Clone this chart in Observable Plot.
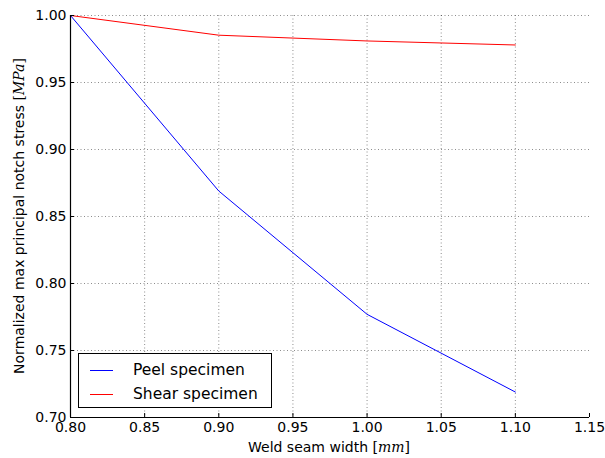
<!DOCTYPE html>
<html><head><meta charset="utf-8">
<script src="https://cdn.jsdelivr.net/npm/d3@7"></script>
<script src="https://cdn.jsdelivr.net/npm/@observablehq/plot@0.6"></script>
<style>
body{margin:0;background:#fff}
#wrap{position:relative;width:605px;height:458px;font-family:"DejaVu Sans",sans-serif}
#legend{position:absolute;left:78px;top:353px;width:192px;height:53px;border:1px solid #000;background:#fff;font-size:15.5px;color:#000}
#legend .row{position:absolute;left:0;height:20px;display:flex;align-items:center}
#legend .sw{display:inline-block;width:23px;height:0;border-top:1px solid;margin-left:11px;margin-right:20px}
</style>
</head><body><div id="wrap"></div>
<script>
const widths = [0.80, 0.90, 1.00, 1.10];
const peel = [1.000, 0.869, 0.777, 0.719];
const shear = [1.000, 0.9853, 0.981, 0.978];
const seriesNames = ["Peel specimen", "Shear specimen"];
const seriesColors = ["#0000ff", "#ff0000"];
const xTicks = [0.80, 0.85, 0.90, 0.95, 1.00, 1.05, 1.10, 1.15];
const yTicks = [0.70, 0.75, 0.80, 0.85, 0.90, 0.95, 1.00];

const peelData = widths.map((w, i) => ({w, v: peel[i]}));
const shearData = widths.map((w, i) => ({w, v: shear[i]}));
const fmt = d3.format(".2f");
const gridStyle = {stroke: "#000", strokeOpacity: 0.45, strokeWidth: 1, strokeDasharray: "1,2.5"};

const chart = Plot.plot({
  width: 605, height: 458,
  marginLeft: 70, marginRight: 16, marginTop: 15, marginBottom: 41,
  style: {fontFamily: "DejaVu Sans", fontSize: "14px", color: "#000", background: "#fff"},
  x: {domain: [0.80, 1.15], label: null},
  y: {domain: [0.70, 1.00], label: null},
  marks: [
    Plot.ruleX(xTicks.filter(d => d > 0.80 && d < 1.15), {...gridStyle}),
    Plot.ruleY(yTicks.filter(d => d > 0.70), {...gridStyle}),
    Plot.line(peelData, {x: "w", y: "v", stroke: seriesColors[0], strokeWidth: 1}),
    Plot.line(shearData, {x: "w", y: "v", stroke: seriesColors[1], strokeWidth: 1}),
    Plot.ruleX([0.80], {stroke: "#000", strokeWidth: 1.2}),
    Plot.ruleY([0.70], {stroke: "#000", strokeWidth: 1.2}),
    Plot.axisX(xTicks, {tickSize: -4, tickPadding: 9, tickFormat: fmt, fontSize: 14, label: null}),
    Plot.axisY(yTicks, {tickSize: -4, tickPadding: 8, tickFormat: fmt, fontSize: 14, label: null})
  ]
});

const wrap = document.getElementById("wrap");
wrap.appendChild(chart);

const svg = d3.select(chart);
const xl = svg.append("text")
  .attr("x", 329).attr("y", 452)
  .attr("text-anchor", "middle")
  .attr("font-family", "DejaVu Sans").attr("font-size", 14).attr("fill", "#000");
xl.append("tspan").text("Weld seam width ");
xl.append("tspan").attr("font-family", "DejaVu Serif").text("[");
xl.append("tspan").attr("font-family", "DejaVu Serif").attr("font-style", "italic").text("mm");
xl.append("tspan").attr("font-family", "DejaVu Serif").text("]");

const yl = svg.append("text")
  .attr("transform", "translate(24,216) rotate(-90)")
  .attr("text-anchor", "middle")
  .attr("font-family", "DejaVu Sans").attr("font-size", 14).attr("fill", "#000");
yl.append("tspan").text("Normalized max principal notch stress ");
yl.append("tspan").attr("font-family", "DejaVu Serif").text("[");
yl.append("tspan").attr("font-family", "DejaVu Serif").attr("font-style", "italic").text("MPa");
yl.append("tspan").attr("font-family", "DejaVu Serif").text("]");

const leg = document.createElement("div");
leg.id = "legend";
seriesNames.forEach((name, i) => {
  const row = document.createElement("div");
  row.className = "row";
  row.style.top = (6 + i * 24) + "px";
  const sw = document.createElement("span");
  sw.className = "sw";
  sw.style.borderTopColor = seriesColors[i];
  row.appendChild(sw);
  const t = document.createElement("span");
  t.textContent = name;
  row.appendChild(t);
  leg.appendChild(row);
});
wrap.appendChild(leg);
</script>
</body></html>
